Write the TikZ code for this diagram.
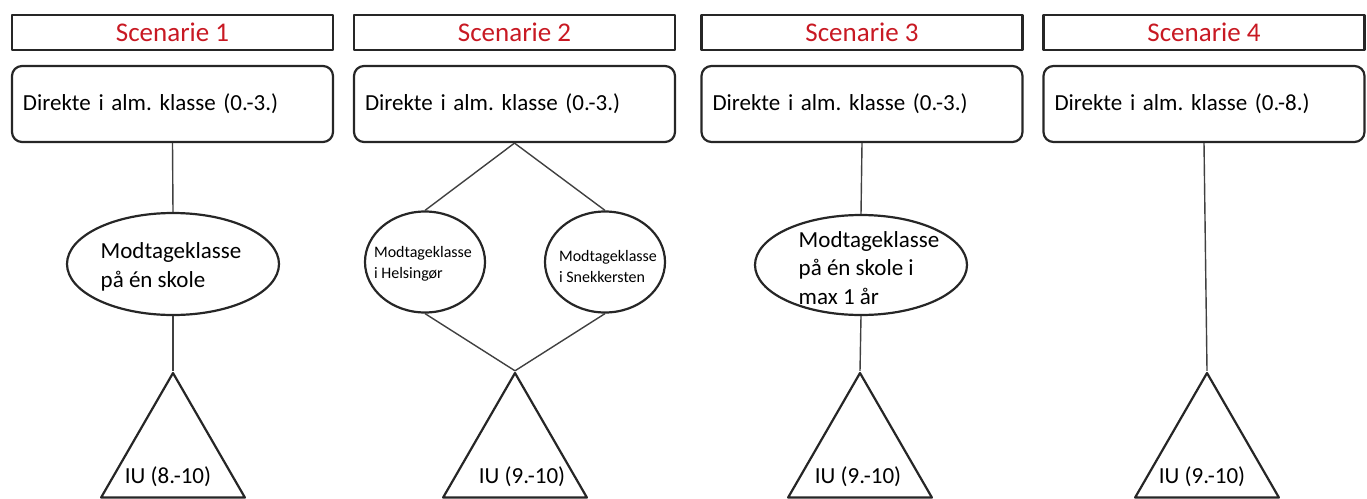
\documentclass[tikz,border=0pt]{standalone}
\usepackage{fontspec}
\setmainfont{Carlito}
\usetikzlibrary{shapes.geometric}
\usetikzlibrary{calc}
\usepackage{xcolor}
\definecolor{scenred}{RGB}{200,25,35}
\frenchspacing

\begin{document}
\begin{tikzpicture}[x=1pt, y=-1pt, line join=round]
        \tikzstyle{titlebox}=[rectangle, draw=black!85, line width=2.2pt, minimum width=321pt, minimum height=35pt, inner sep=0pt, text=scenred, font=\fontsize{27}{30}\selectfont]
        \tikzstyle{klassebox}=[rectangle, rounded corners=10pt, draw=black!85, line width=2.2pt, minimum height=76pt, text width=299pt, inner xsep=11pt, align=left, font=\fontsize{23}{28}\selectfont]
        \tikzstyle{modtnode}=[ellipse, draw=black!85, line width=2.2pt, inner sep=0pt]
        \tikzstyle{modttext}=[align=left, inner sep=0pt, font=\fontsize{23}{28.5}\selectfont]
        \tikzstyle{smalltext}=[align=left, inner sep=0pt, font=\fontsize{16}{21}\selectfont]
        \tikzstyle{iunode}=[regular polygon, regular polygon sides=3, draw=black!85, line width=2.2pt, minimum size=166pt, inner sep=0pt]
        \tikzstyle{iutext}=[inner sep=0pt, font=\fontsize{23}{27}\selectfont]
        \tikzstyle{link}=[draw=black!75, line width=1.4pt]

        \useasboundingbox (0,0) rectangle (1367,498);

        % overskrifter og første trin (fire kolonner)
        \foreach \i/\cx/\trin in {1/172.5/0.-3., 2/514.5/0.-3., 3/862/0.-3., 4/1204/0.-8.} {
            \node[titlebox] (title\i) at (\cx,32.5) {Scenarie \i};
            \node[klassebox] (klasse\i) at (\cx,104) {Direkte i alm. klasse (\trin)};
        }

        % modtageklasser
        \node[modtnode, minimum width=212pt, minimum height=102pt] (modt1) at (173,264) {};
        \node[modttext] at ($(modt1)+(-2,3)$) {Modtageklasse\\på én skole};

        \node[modtnode, minimum width=120pt, minimum height=101pt] (modt2a) at (425,262) {};
        \node[smalltext] at ($(modt2a)+(-2,2)$) {Modtageklasse\\i Helsingør};
        \node[modtnode, minimum width=120pt, minimum height=101pt] (modt2b) at (605,262) {};
        \node[smalltext] at ($(modt2b)+(3,4)$) {Modtageklasse\\i Snekkersten};

        \node[modtnode, minimum width=212pt, minimum height=100pt] (modt3) at (861,265) {};
        \node[modttext] at ($(modt3)+(8,3)$) {Modtageklasse\\på én skole i\\max 1 år};

        % IU-trekanter
        \foreach \i/\cx/\dx/\iu in {1/173/-5/8.-10, 2/515/7/9.-10, 3/860/-2/9.-10, 4/1207/-5/9.-10} {
            \node[iunode] (iu\i) at (\cx,456) {};
            \node[iutext] at (\cx+\dx,477) {IU (\iu)};
        }

        % forbindelser
        \draw[link] (klasse1.south) -- (modt1.north);
        \draw[link] (modt1.south) -- (iu1.corner 1);

        \draw[link] (klasse2.south) -- (modt2a.north);
        \draw[link] (klasse2.south) -- (modt2b.north);
        \draw[link] (modt2a.south) -- (iu2.corner 1);
        \draw[link] (modt2b.south) -- (iu2.corner 1);

        \draw[link] (klasse3.south) -- (modt3.north);
        \draw[link] (modt3.south) -- (iu3.corner 1);

        \draw[link] (klasse4.south) -- (iu4.corner 1);
\end{tikzpicture}
\end{document}
